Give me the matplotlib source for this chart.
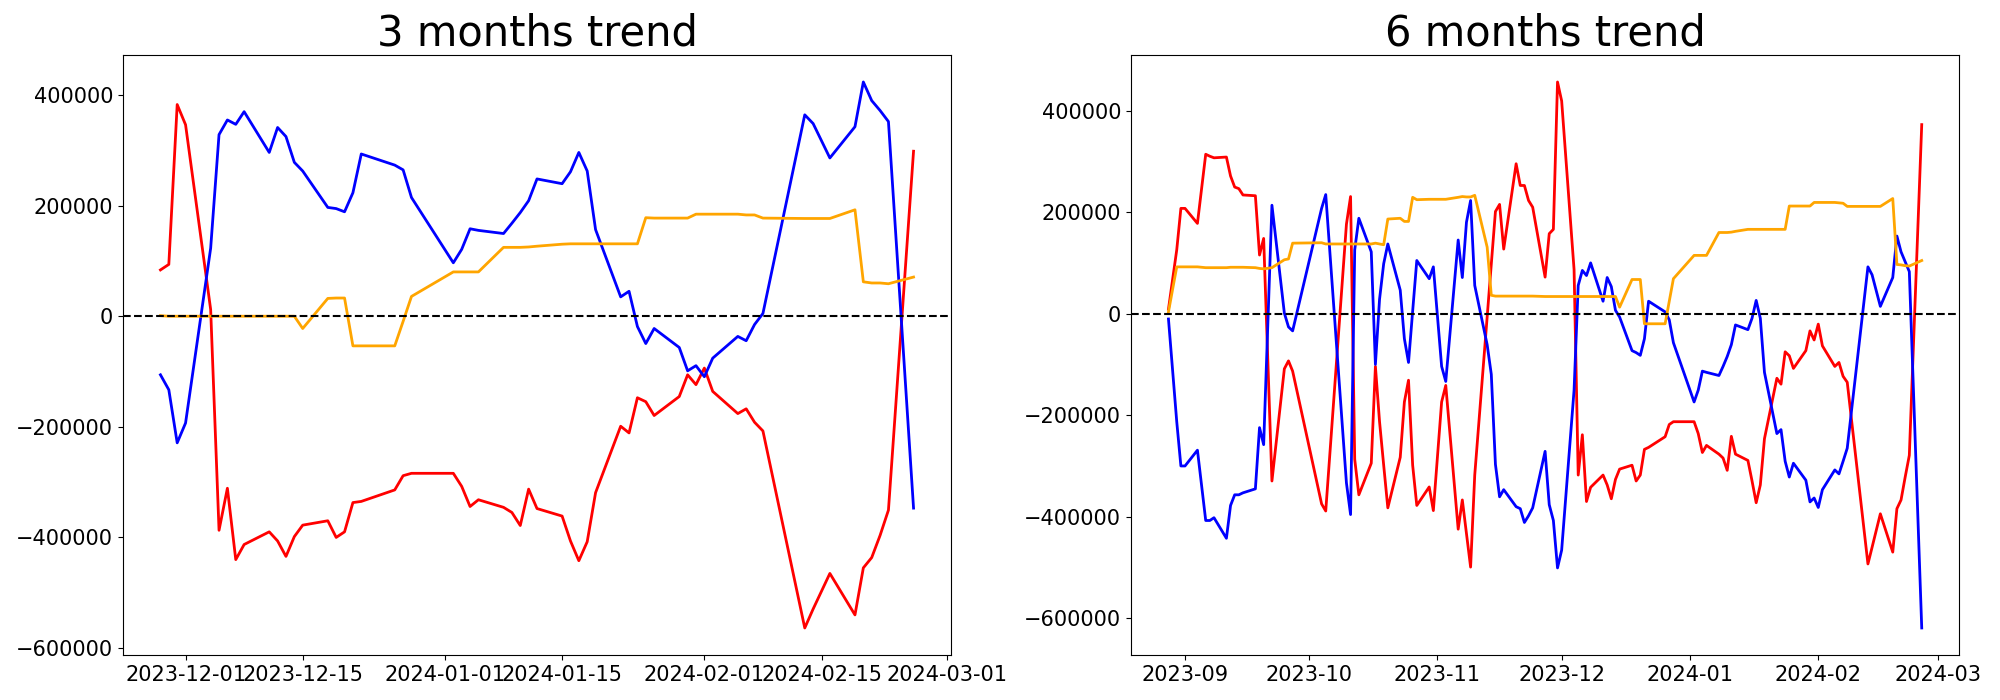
import matplotlib
matplotlib.use("Agg")
import matplotlib.pyplot as plt
import pandas as pd


def month_days(prefix, days):
    """Build date strings for one month from a tuple of day numbers"""
    return [f"{prefix}-{d:02d}" for d in days]


# ---- 3 months window ----
dates_3m = (
    month_days("2023-11", (28, 29, 30))
    + month_days("2023-12", (1, 4, 5, 6, 7, 8, 11, 12, 13, 14, 15, 18, 19, 20, 21, 22, 26, 27, 28))
    + month_days("2024-01", (2, 3, 4, 5, 8, 9, 10, 11, 12, 15, 16, 17, 18, 19, 22, 23, 24, 25, 26, 29, 30, 31))
    + month_days("2024-02", (1, 2, 5, 6, 7, 8, 13, 14, 16, 19, 20, 21, 22, 23, 26))
)

red_3m = [
    83700, 93700, 382700,
    346200, 12200, -387000, -311000, -440000, -412700, -389800, -406300, -434200, -398400,
    -377700, -369800, -399900, -389800, -336900, -334800, -314000, -288300, -284000,
    -284000, -307600, -344000, -331800, -345500, -354800, -378400, -312600, -347700, -361300,
    -406300, -442000, -407700, -319000, -198900, -211000, -147400, -154500, -179500, -145200,
    -105900, -123700,
    -93700, -135900, -176000, -167400, -191700, -207400, -563600, -529300, -465000, -540000,
    -454900, -436300, -396300, -350500, 298300,
]

blue_3m = [
    -105900, -133000, -228900,
    -193100, 123000, 328300, 354800, 346900, 369800, 296100, 341200, 324800, 278200,
    262500, 196700, 194600, 188800, 223200, 293300, 273200, 264600, 214600,
    96600, 120900, 158100, 155200, 149500, 168100, 187400, 208900, 248200, 239600,
    261100, 296100, 262500, 156600, 35000, 45100, -18600, -49400, -22200, -56500,
    -98700, -89400,
    -109400, -75800, -36500, -44300, -15000, 5000, 364100, 348300, 286100, 342600,
    423500, 389800, 371900, 351900, -346900,
]

orange_3m = [
    1000, 0, 0,
    0, 0, 0, 0, 0, 0, 0, 0, 0, 0,
    -22200, 32200, 32900, 32900, -53600, -53600, -53600, -9300, 35800,
    80100, 80100, 80100, 80100, 124500, 124500, 124500, 125200, 126600, 130200,
    130900, 130900, 130900, 130900, 130900, 130900, 130900, 178100, 177400, 177400,
    177400, 184500,
    184500, 184500, 184500, 183100, 183100, 177400, 176700, 176700, 176700, 192400,
    62200, 60100, 60100, 58700, 70800,
]

# ---- 6 months window ----
dates_6m = (
    month_days("2023-08", (28, 30, 31))
    + month_days("2023-09", (1, 4, 6, 7, 8, 11, 12, 13, 14, 15, 18, 19, 20, 22, 25, 26, 27))
    + month_days("2023-10", (4, 5, 10, 11, 12, 13, 16, 17, 18, 19, 20, 23, 24, 25, 26, 27, 30, 31))
    + month_days("2023-11", (2, 3, 6, 7, 8, 9, 10, 13, 14, 15, 16, 17, 20, 21, 22, 23, 24, 27, 28, 29, 30))
    + month_days("2023-12", (1, 4, 5, 6, 7, 8, 11, 12, 13, 14, 15, 18, 19, 20, 21, 22, 26, 27, 28))
    + month_days("2024-01", (2, 3, 4, 5, 8, 9, 10, 11, 12, 15, 16, 17, 18, 19, 22, 23, 24, 25, 26, 29, 30, 31))
    + month_days("2024-02", (1, 2, 5, 6, 7, 8, 13, 14, 16, 19, 20, 21, 22, 23, 26))
)

red_6m = [
    9300, 126100, 207800,
    207800, 178200, 314400, 310500, 307400, 308900, 271600, 249800, 246700, 234200,
    232700, 115900, 148600, -329200, -108200, -92600, -112800,
    -374300, -388300, 176700, 231100, -286400, -356400, -294200, -103500, -212400, -298100,
    -382100, -282500, -173500, -130700, -298100, -377400, -340900, -387500,
    -173500, -140900, -424100, -366500, -432700, -498800, -317500, -6200, 98000, 201600,
    215600, 127600, 295700, 252900, 252900, 223400, 210100, 72400, 158000, 166500, 456800,
    419500, 87200, -317500, -238100, -369600, -341600, -317500, -337000, -364200, -326100,
    -305800, -298100, -329200, -317500, -266900, -263000, -242000, -217900, -212400,
    -212400, -235800, -273100, -259100, -276300, -284000, -308200, -241200, -276300, -288700,
    -329200, -372000, -337000, -245900, -126800, -138500, -74700, -82500, -107400, -72400,
    -33500, -51400,
    -20200, -63000, -103500, -95700, -123000, -134700, -492600, -459900, -393800, -469300,
    -383700, -366500, -321400, -278600, 372800,
]

blue_6m = [
    -10100, -212400, -299600,
    -299600, -268500, -407000, -407000, -401500, -442000, -377400, -356400, -356400, -352500,
    -344700, -224100, -257600, 214000, 1600, -25700, -33500,
    207800, 235000, -333100, -395300, 126100, 188300, 122200, -99600, 28800, 98800,
    137700, 46700, -49000, -95700, 5400, 105100, 69300, 92600,
    -103500, -133100, 145500, 71600, 180500, 223300, 56000, -60700, -119100, -296500,
    -360300, -346300, -379800, -383700, -410900, -397700, -382100, -270800, -375900, -407000,
    -500400,
    -465400, -150200, 56000, 85600, 75500, 100400, 24900, 71600, 53700, 7000,
    -6200, -72400, -76300, -81700, -49000, 24900, 3900, -11700, -56800,
    -173500, -150200, -112800, -115200, -121400, -103500, -84000, -60700, -21800, -31100,
    -8600, 26500, -8600, -115200, -235800, -228000, -290300, -321400, -294200, -327600,
    -370400, -362700,
    -381300, -346300, -307400, -315200, -290300, -264600, 92600, 77000, 14800, 71600,
    153300, 122200, 102700, 83200, -618700,
]

orange_6m = [
    3900, 92600, 92600,
    92600, 92600, 91000, 91000, 91000, 91000, 91800, 91800, 91800, 91800,
    91000, 89500, 88700, 91000, 106600, 108200, 139300,
    140100, 137700, 137700, 137700, 137700, 137700, 137700, 139300, 137700, 136200,
    186800, 188300, 182100, 182100, 229600, 224900, 225700, 225700,
    225700, 225700, 229600, 231100, 230300, 230300, 233500, 131500, 36600, 35000,
    35000, 35000, 35000, 35000, 35000, 35000, 35000, 34200, 34200, 34200, 34200,
    34200, 34200, 34200, 34200, 34200, 34200, 34200, 34200, 34200, 34200,
    13200, 67700, 67700, 67700, -19500, -19500, -19500, 24900, 69300,
    115200, 115200, 115200, 115200, 160300, 160300, 160300, 161000, 162600, 166500,
    166500, 166500, 166500, 166500, 166500, 166500, 166500, 212400, 212400, 212400,
    212400, 219500,
    219500, 219500, 219500, 218700, 217900, 211700, 211700, 211700, 211700, 227200,
    97300, 96500, 94900, 94200, 105100,
]


def draw_trend(ax, dates, red, blue, orange, title):
    """Plot the three series of one window with a zero reference line"""
    x = pd.to_datetime(dates)
    ax.plot(x, red, color="red", linewidth=2)
    ax.plot(x, blue, color="blue", linewidth=2)
    ax.plot(x, orange, color="orange", linewidth=2)
    ax.axhline(0, color="black", linestyle="--", linewidth=1.5)
    ax.set_title(title, fontsize=30)
    ax.tick_params(labelsize=15)


fig, (ax1, ax2) = plt.subplots(1, 2, figsize=(20, 7))

draw_trend(ax1, dates_3m, red_3m, blue_3m, orange_3m, "3 months trend")
draw_trend(ax2, dates_6m, red_6m, blue_6m, orange_6m, "6 months trend")

ax1.set_position([0.0614, 0.0639, 0.4142, 0.858])
ax2.set_position([0.5654, 0.0639, 0.4143, 0.858])

fig.savefig("out.png", dpi=100)
